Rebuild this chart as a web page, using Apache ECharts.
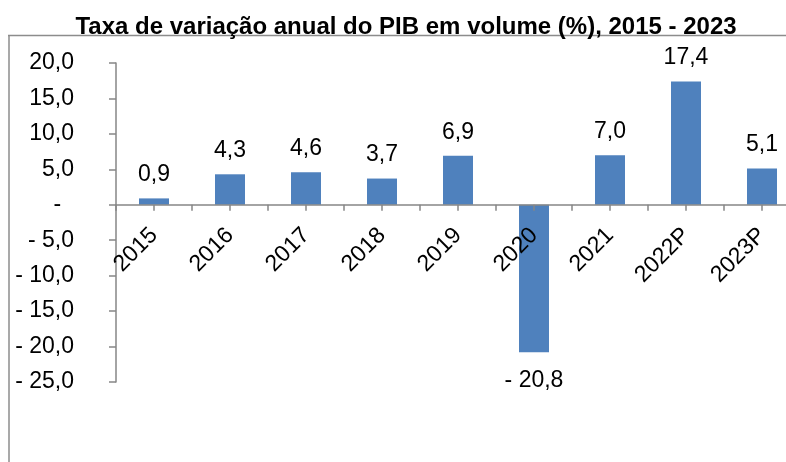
<!DOCTYPE html>
<html>
<head>
<meta charset="utf-8">
<script src="https://cdn.jsdelivr.net/npm/echarts@6/dist/echarts.min.js"></script>
<style>
  html, body { margin: 0; padding: 0; overflow: hidden; background: #fff; }
  #chart { width: 800px; height: 462px; }
</style>
</head>
<body>
<div id="chart"></div>
<script>
// data
const years = ['2015', '2016', '2017', '2018', '2019', '2020', '2021', '2022P', '2023P']
const growth = [0.9, 4.3, 4.6, 3.7, 6.9, -20.8, 7.0, 17.4, 5.1]

const titleText = 'Taxa de variação anual do PIB em volume (%), 2015 - 2023'
const font = 'Arial, "Liberation Sans", sans-serif'
const axisGray = '#868686'

// grid geometry, the category axis sits on the zero line
const gridTop = 63
const gridBottom = 80
const plotH = 462 - gridTop - gridBottom
const yMin = -25
const yMax = 20
const zeroOffset = -plotH * (0 - yMin) / (yMax - yMin)

// excel accounting style: "- 20,8", zero shown as "-"
function fmt (v) {
  if (v === 0) return '-  '
  const s = Math.abs(v).toFixed(1).replace('.', ',')
  return v < 0 ? '- ' + s : s
}

const chart = echarts.init(document.getElementById('chart'))

chart.setOption({
  animation: false,
  title: {
    text: titleText,
    left: 401,
    top: 10,
    textAlign: 'center',
    textStyle: { fontFamily: font, fontSize: 24, fontWeight: 'bold', color: '#000' },
  },
  graphic: [
    { type: 'line', shape: { x1: 8, y1: 35.5, x2: 800, y2: 35.5 }, style: { stroke: '#8c8c8c', lineWidth: 1.5 } },
    { type: 'line', shape: { x1: 9, y1: 35, x2: 9, y2: 462 }, style: { stroke: '#8c8c8c', lineWidth: 1.5 } },
  ],
  grid: { left: 116, right: 0, top: gridTop, bottom: gridBottom },
  xAxis: [
    {
      type: 'category',
      data: years,
      position: 'bottom',
      offset: zeroOffset,
      z: 10,
      axisLine: { onZero: false, lineStyle: { color: axisGray, width: 1.5 } },
      axisTick: { show: true, length: 6, lineStyle: { color: axisGray, width: 1.5 } },
      axisLabel: {
        rotate: 45,
        margin: 27,
        interval: 0,
        fontFamily: font,
        fontSize: 23,
        color: '#000',
      },
    },
    {
      // second axis only for the mid-category ticks
      type: 'category',
      data: years,
      position: 'bottom',
      offset: zeroOffset,
      z: 10,
      axisLine: { show: false, onZero: false },
      axisTick: { show: true, alignWithLabel: true, length: 6, lineStyle: { color: axisGray, width: 1.5 } },
      axisLabel: { show: false },
    },
  ],
  yAxis: {
    type: 'value',
    min: yMin,
    max: yMax,
    interval: 5,
    splitLine: { show: false },
    axisLine: { show: true, lineStyle: { color: axisGray, width: 1.5 } },
    axisTick: { show: true, length: 7, lineStyle: { color: axisGray, width: 1.5 } },
    axisLabel: {
      margin: 42,
      fontFamily: font,
      fontSize: 23,
      color: '#000',
      formatter: fmt,
    },
  },
  series: [
    {
      type: 'bar',
      barWidth: 30,
      data: growth.map(v => (v < 0 ? { value: v, label: { position: 'bottom', distance: 17 } } : v)),
      itemStyle: { color: '#4F81BD' },
      label: {
        show: true,
        position: 'top',
        distance: 12,
        fontFamily: font,
        fontSize: 23,
        color: '#000',
        formatter: p => fmt(p.value),
      },
    },
  ],
})
</script>
</body>
</html>
